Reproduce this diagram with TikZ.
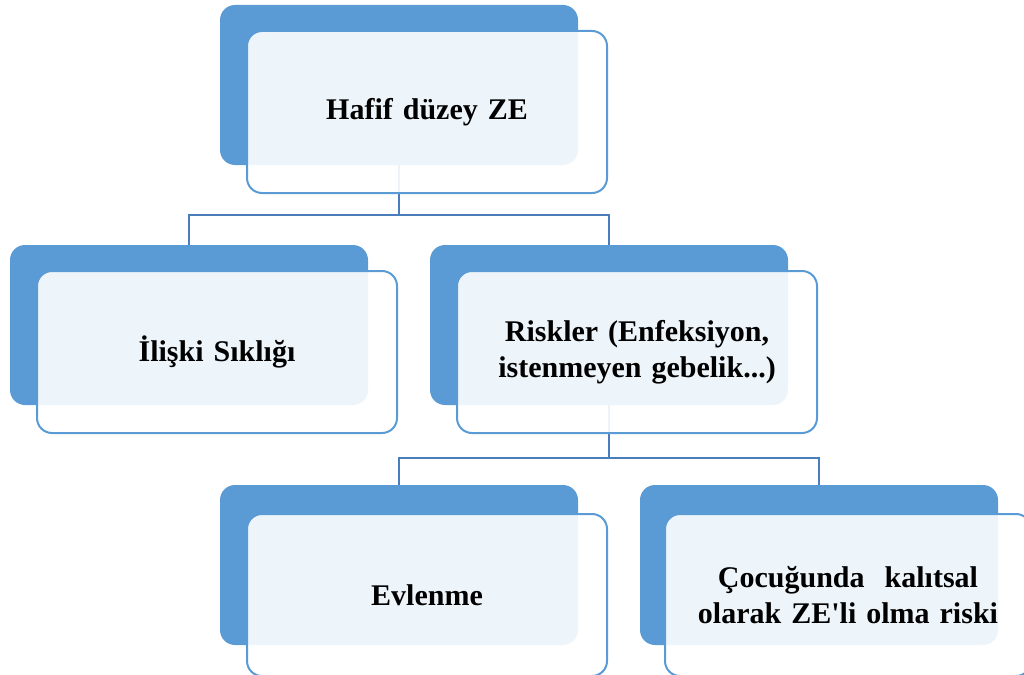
\documentclass[tikz,border=0pt]{standalone}
\usepackage{fontspec}
\setmainfont{Liberation Serif}[Ligatures=TeXOff]
\usetikzlibrary{positioning,calc}
\definecolor{boxblue}{HTML}{5B9BD5}
\definecolor{linkblue}{HTML}{4A7EBB}

\begin{document}
\begin{tikzpicture}[x=1pt,y=-1pt,
  back/.style={fill=boxblue,draw=none,rounded corners=15pt,minimum width=358pt,minimum height=160pt,inner sep=0pt},
  front/.style={fill=white,fill opacity=0.9,text opacity=1,draw=boxblue,line width=2pt,rounded corners=15pt,
    minimum width=360pt,minimum height=162pt,inner sep=2pt,align=center,text width=330pt,
    font=\fontsize{30}{36}\selectfont\bfseries},
  link/.style={draw=linkblue,line width=2.2pt}]
\useasboundingbox (0,0) rectangle (1024,674);
\clip (0,0) rectangle (1024,674);
% back boxes
\node[back] (b0) at (399,85) {};
\node[back] (b1) at (189,325) {};
\node[back] (b2) at (609,325) {};
\node[back] (b3) at (399,565) {};
\node[back] (b4) at (819,565) {};
% connectors
\draw[link] (b0.south) -- ++(0,50) coordinate (j0);
\draw[link] (b1.north) |- (j0) -| (b2.north);
\draw[link] (b2.south) -- ++(0,53) coordinate (j1);
\draw[link] (b3.north) |- (j1) -| (b4.north);
% front boxes
\node[front] (f0) at (427,112) {Hafif düzey ZE};
\node[front] (f1) at (217,352) {İlişki Sıklığı};
\node[front] (f2) at (637,352) {Riskler (Enfeksiyon,\\ istenmeyen gebelik...)};
\node[front] (f3) at (427,595) {Evlenme};
\node[front,minimum width=366pt] (f4) at (848,595) {Çocuğunda\ \ kalıtsal\\ olarak ZE'li olma riski};
\end{tikzpicture}
\end{document}
